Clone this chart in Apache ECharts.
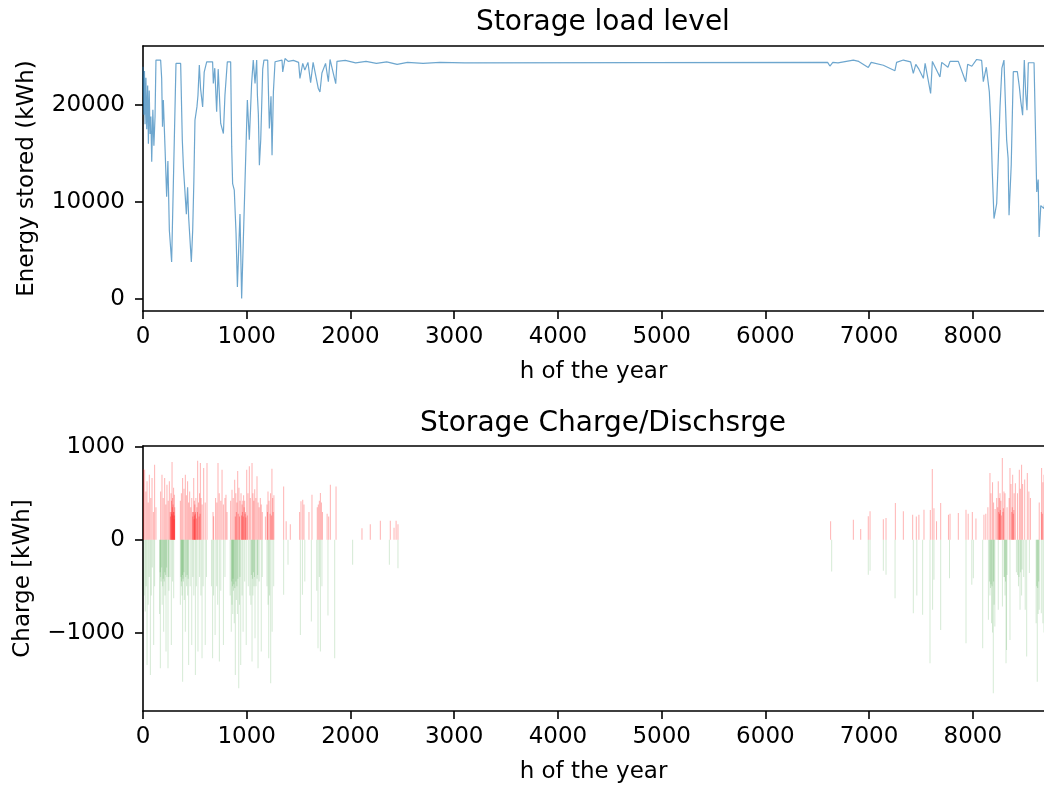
<!DOCTYPE html>
<html>
<head>
    <meta charset="utf-8">
    <script src="https://cdn.jsdelivr.net/npm/echarts@6/dist/echarts.min.js"></script>
    <style>
        body, html {
            margin: 0;
            height: 100%;
            background: #fff;
        }
        #main {
            width: 1044px;
            height: 785px;
        }
    </style>
</head>
<body>
<div id="main"></div>

<script>
    // storage level (hour of year, kWh)
    var loadHours = [0,8,14,20,28,36,45,52,60,68,76,84,95,105,116,125,170,180,188,196,212,228,240,254,276,318,363,373,379,390,418,430,440,466,479,490,501,520,530,543,555,575,590,614,671,678,692,710,725,749,775,790,813,845,855,864,880,897,910,922,935,951,1006,1025,1047,1063,1080,1096,1103,1112,1122,1135,1154,1166,1202,1218,1234,1244,1257,1273,1289,1340,1347,1369,1400,1450,1500,1513,1540,1560,1590,1616,1640,1690,1706,1725,1760,1787,1803,1858,1870,1950,2050,2150,2250,2350,2450,2550,2700,2863,3100,6600,6622,6650,6700,6848,6900,6992,7020,7137,7249,7265,7330,7400,7426,7450,7480,7523,7540,7593,7610,7683,7700,7760,7780,7860,7931,7950,7990,8037,8085,8101,8130,8159,8175,8188,8204,8215,8230,8246,8262,8280,8300,8326,8340,8349,8370,8390,8429,8448,8462,8480,8496,8510,8522,8535,8590,8609,8616,8630,8639,8655,8686,8720,8760];
    var loadValues = [23950,19000,23500,18000,22800,17500,22000,16000,21500,17000,18800,14125,19500,15800,18780,24640,24640,22750,17740,20500,15670,10510,14200,7064,3790,24290,24290,19300,16370,13500,8727,11500,8400,3790,7064,12000,18440,19800,21000,24120,21700,19800,23400,24460,24460,22220,23800,19300,23700,18090,17050,21000,24460,24460,15670,11880,11200,6720,1200,4960,8730,0,20500,16400,22220,24640,22220,24640,21000,19100,13780,16400,23700,24640,24640,17560,20900,14810,21350,24460,24640,24640,23410,24800,24500,24600,24400,22750,24300,23600,24400,22300,24400,21700,21350,23300,24300,22400,24700,22200,24500,24600,24350,24500,24300,24450,24200,24400,24300,24390,24350,24400,24020,24400,24350,24640,24500,23880,24400,24100,23540,24400,24640,24450,23260,24200,23700,22750,24300,21200,24500,22900,24400,23900,24500,24500,22400,24200,24000,24700,24600,22400,23900,21350,17750,12920,8270,8900,9820,14640,19810,23800,24640,16370,14500,8610,13800,23440,23440,21900,20400,18950,24640,21100,19460,24360,24360,14640,11020,12300,6370,9600,9300,12000,14000];

    // charging hours (positive kWh)
    var chargeHours = [5,16,28,39,50,61,75,87,100,112,125,170,183,195,209,220,231,243,254,262,265,270,272,275,278,280,283,285,288,290,293,295,298,300,302,304,306,360,370,382,395,408,418,430,440,450,460,470,478,480,485,489,492,495,498,500,503,505,510,515,520,525,527,535,540,545,550,553,560,570,585,600,617,675,681,700,712,723,735,750,762,775,790,800,810,845,858,870,884,890,895,900,905,913,918,925,930,935,945,950,955,958,962,966,970,975,980,985,988,992,1000,1005,1012,1025,1035,1051,1060,1068,1077,1088,1099,1110,1120,1131,1140,1150,1180,1195,1200,1205,1215,1225,1230,1238,1243,1250,1255,1262,1356,1380,1420,1510,1523,1540,1552,1600,1629,1680,1690,1700,1710,1720,1730,1775,1790,1806,1861,2111,2191,2288,2384,2420,2440,2458,6629,6848,6919,6992,7009,7137,7163,7253,7330,7420,7455,7480,7529,7590,7609,7625,7650,7690,7765,7780,7860,7934,7955,7995,8030,8107,8125,8145,8165,8175,8190,8200,8215,8230,8240,8245,8250,8255,8258,8262,8265,8270,8275,8284,8290,8295,8300,8310,8330,8350,8358,8368,8375,8380,8384,8390,8395,8398,8410,8430,8448,8458,8470,8480,8500,8525,8540,8555,8640,8660,8663,8670,8675,8686];
    var chargeValues = [760,755,520,629,400,701,450,665,300,809,350,520,701,450,665,380,593,420,629,300,250,500,300,420,280,838,350,450,260,380,300,560,300,220,485,260,350,420,500,665,550,701,480,629,400,520,350,450,300,250,300,665,220,420,260,380,280,300,450,230,350,300,852,400,250,500,280,827,450,380,773,400,827,300,252,450,400,827,500,420,755,380,450,485,300,420,539,450,647,250,500,300,400,741,280,560,250,420,500,260,380,300,420,250,480,350,420,280,300,240,755,260,500,791,450,827,500,420,543,450,683,400,350,450,380,300,250,380,300,521,420,280,500,260,765,450,300,480,575,200,168,300,414,430,380,300,485,350,380,420,503,400,300,280,250,593,575,125,168,204,204,130,204,168,198,216,115,252,306,220,234,396,306,270,250,270,324,320,762,340,200,396,270,280,288,324,280,300,230,270,280,350,719,500,620,400,330,450,350,629,300,450,280,500,320,420,260,881,300,340,520,500,350,450,773,600,300,350,701,280,320,500,610,500,755,550,809,600,650,719,520,450,400,300,773,280,620,700];

    // discharging hours (negative kWh)
    var dischargeHours = [10,22,30,39,50,60,71,80,90,103,112,160,165,167,170,175,180,185,190,195,199,205,210,212,218,222,228,230,241,245,250,260,273,285,296,360,365,370,372,376,380,382,386,390,395,398,408,412,420,425,430,435,440,455,470,480,490,505,515,530,545,558,569,580,600,612,660,671,680,695,710,720,736,750,775,790,840,851,855,858,862,865,868,872,875,880,885,890,895,900,905,910,915,923,930,935,942,955,965,980,995,1015,1030,1040,1045,1051,1055,1060,1065,1070,1075,1080,1090,1100,1105,1109,1120,1140,1150,1195,1205,1212,1220,1231,1245,1260,1356,1398,1517,1537,1560,1623,1675,1687,1700,1710,1725,1783,1848,2021,2375,2458,6639,6992,7009,7137,7163,7250,7426,7460,7516,7587,7612,7625,7690,7775,7934,7990,8005,8095,8150,8160,8165,8170,8175,8180,8185,8190,8197,8200,8205,8212,8245,8285,8300,8305,8310,8315,8320,8325,8330,8358,8420,8430,8440,8445,8455,8460,8470,8475,8490,8505,8519,8545,8610,8615,8621,8625,8630,8635,8640,8660,8675,8686];
    var dischargeValues = [-600,-773,-500,-1349,-700,-400,-1457,-600,-300,-1133,-500,-800,-350,-1385,-400,-450,-300,-700,-500,-420,-990,-450,-350,-600,-380,-1205,-300,-400,-1385,-400,-550,-400,-1133,-450,-630,-700,-400,-500,-450,-600,-380,-1529,-420,-450,-350,-650,-990,-400,-500,-380,-600,-420,-1349,-500,-1133,-400,-600,-1457,-500,-1205,-400,-600,-1277,-500,-1133,-400,-500,-1277,-600,-1025,-500,-700,-1313,-550,-1133,-400,-600,-990,-450,-700,-500,-800,-420,-550,-480,-900,-520,-1457,-450,-650,-500,-800,-420,-1601,-700,-400,-1349,-600,-990,-450,-1133,-500,-600,-700,-380,-1313,-420,-600,-350,-500,-400,-1061,-500,-420,-380,-1385,-450,-1205,-400,-500,-700,-1277,-600,-1547,-990,-500,-593,-270,-1025,-593,-450,-881,-550,-1169,-400,-1205,-500,-816,-1277,-270,-270,-306,-342,-378,-333,-333,-378,-630,-791,-600,-809,-1331,-755,-432,-971,-414,-1115,-486,-414,-1169,-863,-450,-600,-520,-480,-900,-500,-1000,-1655,-450,-700,-935,-755,-719,-400,-400,-600,-450,-1331,-1187,-380,-1079,-350,-380,-500,-400,-755,-350,-600,-320,-400,-755,-1259,-359,-900,-500,-1529,-520,-800,-450,-755,-791,-900,-1000];

    var hourTicks = [0,1000,2000,3000,4000,5000,6000,7000,8000];
    var levelTicks = [0,10000,20000];
    var chargeTicks = [-1000,0,1000];

    function pairs(xs, ys) {
        var out = [];
        for (var i = 0; i < xs.length; i++) out.push([xs[i], ys[i]]);
        return out;
    }
    function fmt(v) {
        return v < 0 ? '\u2212' + Math.abs(v) : String(v);
    }

    var font = 'DejaVu Sans';
    var axisLine = {show: true, onZero: false, lineStyle: {color: '#000', width: 1.6}};
    var axisTick = {show: true, length: 8, inside: false, lineStyle: {color: '#000', width: 1.6}};
    var labelStyle = {color: '#000', fontFamily: font, fontSize: 23};
    var nameStyle = {color: '#000', fontFamily: font, fontSize: 23};
    // the figure is cut at the window edge: last visible hour
    var visibleMaxHour = 8686;

    function xAx(gridIndex) {
        return {
            type: 'value', gridIndex: gridIndex, min: 0, max: visibleMaxHour,
            name: 'h of the year', nameLocation: 'middle', nameGap: 50,
            nameTextStyle: nameStyle,
            axisLine: axisLine,
            axisTick: Object.assign({customValues: hourTicks}, axisTick),
            axisLabel: Object.assign({customValues: hourTicks, margin: 15, formatter: fmt}, labelStyle),
            splitLine: {show: false}
        };
    }
    // top spine only
    function topSpine(gridIndex) {
        return {
            type: 'value', gridIndex: gridIndex, position: 'top', min: 0, max: visibleMaxHour,
            axisLine: axisLine, axisTick: {show: false}, axisLabel: {show: false},
            splitLine: {show: false}
        };
    }

    var myChart = echarts.init(document.getElementById('main'));
    var option = {
        animation: false,
        backgroundColor: '#fff',
        title: [
            {text: 'Storage load level', left: 598, top: 4, textAlign: 'center',
             textStyle: {fontFamily: font, fontSize: 28, fontWeight: 'normal', color: '#000'}},
            {text: 'Storage Charge/Dischsrge', left: 598, top: 405, textAlign: 'center',
             textStyle: {fontFamily: font, fontSize: 28, fontWeight: 'normal', color: '#000'}}
        ],
        grid: [
            {left: 143, right: 0, top: 46, height: 265},
            {left: 143, right: 0, top: 446, height: 265}
        ],
        xAxis: [xAx(0), xAx(1), topSpine(0), topSpine(1)],
        yAxis: [
            {
                type: 'value', gridIndex: 0, min: -1282, max: 26091,
                name: 'Energy stored (kWh)', nameLocation: 'middle', nameGap: 104,
                nameTextStyle: nameStyle,
                axisLine: axisLine,
                axisTick: Object.assign({customValues: levelTicks}, axisTick),
                axisLabel: Object.assign({customValues: levelTicks, margin: 18, formatter: fmt}, labelStyle),
                splitLine: {show: false}
            },
            {
                type: 'value', gridIndex: 1, min: -1845, max: 1010,
                name: 'Charge [kWh]', nameLocation: 'middle', nameGap: 108,
                nameTextStyle: nameStyle,
                axisLine: axisLine,
                axisTick: Object.assign({customValues: chargeTicks}, axisTick),
                axisLabel: Object.assign({customValues: chargeTicks, margin: 18, formatter: fmt}, labelStyle),
                splitLine: {show: false}
            }
        ],
        series: [
            {
                name: 'level', type: 'line', xAxisIndex: 0, yAxisIndex: 0,
                data: pairs(loadHours, loadValues),
                showSymbol: false, symbol: 'none',
                lineStyle: {color: '#1f77b4', width: 1.2, opacity: 0.65}
            },
            {
                name: 'charge', type: 'bar', xAxisIndex: 1, yAxisIndex: 1,
                data: pairs(chargeHours, chargeValues),
                barWidth: 1, barGap: '-100%',
                itemStyle: {color: 'rgba(255,0,0,0.3)'}
            },
            {
                name: 'discharge', type: 'bar', xAxisIndex: 1, yAxisIndex: 1,
                data: pairs(dischargeHours, dischargeValues),
                barWidth: 1, barGap: '-100%',
                itemStyle: {color: 'rgba(0,128,0,0.17)'}
            }
        ]
    };
    myChart.setOption(option);
</script>
</body>
</html>
